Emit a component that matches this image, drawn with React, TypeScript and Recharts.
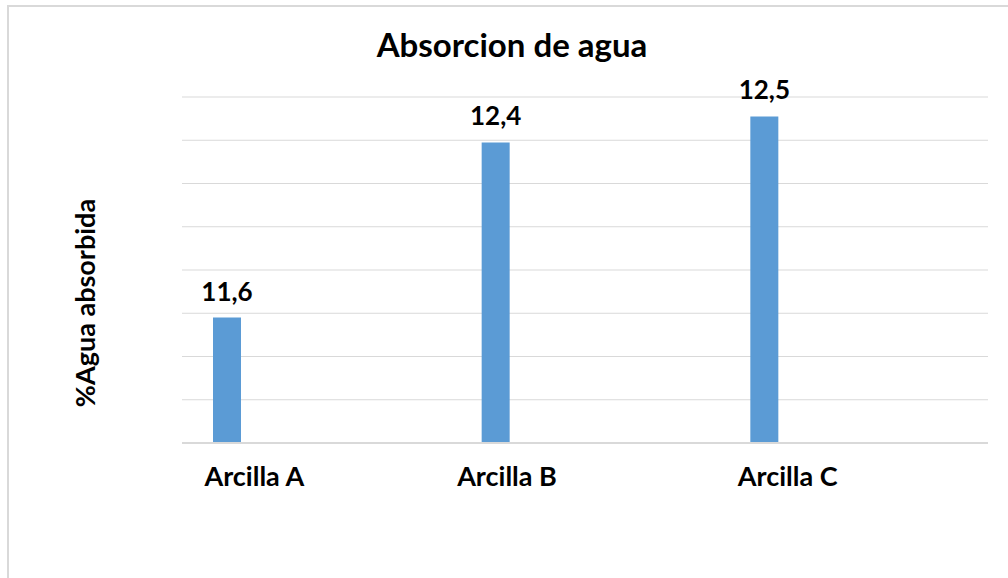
import React from 'react';
import { BarChart, Bar, XAxis, YAxis, CartesianGrid, LabelList } from 'recharts';

const categories = ['Arcilla A', 'Arcilla B', 'Arcilla C'];
const absorption = [11.58, 12.39, 12.51];
const yTicks = [11, 11.2, 11.4, 11.6, 11.8, 12, 12.2, 12.4, 12.6];

const data = categories.map((name, i) => ({ name, value: absorption[i], blank: null }));

const FONT = 'Lato, "Open Sans", sans-serif';
const TICK_NUDGE = [-62, -78, -66];

const fmt = (v: any) => (typeof v === 'number' ? v.toFixed(1).replace('.', ',') : '');

const CategoryTick = (props: any) => {
  const { x, y, payload, index } = props;
  return (
    <text
      x={x + (TICK_NUDGE[index] ?? 0)}
      y={y}
      dy={43}
      textAnchor="middle"
      fill="#000"
      fontFamily={FONT}
      fontWeight={700}
      fontSize={27}
    >
      {payload.value}
    </text>
  );
};

const NoTick = () => <g />;

export default function App() {
  return (
    <div>
      <div
        style={{
          position: 'absolute',
          left: 7,
          top: 5,
          width: 1001,
          height: 573,
          boxSizing: 'border-box',
          borderLeft: '2px solid #d9d9d9',
          borderTop: '2px solid #d9d9d9',
        }}
      />
      <div style={{ position: 'absolute', left: 0, top: 0, width: 1008, height: 578 }}>
        <BarChart
          width={1008}
          height={578}
          data={data}
          margin={{ top: 97, right: 20, bottom: 0, left: 182 }}
          barSize={28}
          barGap={151}
        >
          <CartesianGrid vertical={false} stroke="#d9d9d9" strokeWidth={1} horizontalValues={yTicks} />
          <XAxis
            dataKey="name"
            height={135}
            tickLine={false}
            tickSize={0}
            tickMargin={0}
            axisLine={{ stroke: '#d9d9d9', strokeWidth: 2 }}
            tick={<CategoryTick />}
            interval={0}
          />
          <YAxis
            width={0}
            domain={[11, 12.6]}
            ticks={yTicks}
            tick={<NoTick />}
            tickLine={false}
            axisLine={false}
            allowDataOverflow
          />
          <Bar dataKey="value" fill="#5b9bd5" isAnimationActive={false}>
            <LabelList
              dataKey="value"
              position="top"
              offset={17}
              formatter={fmt}
              fill="#000"
              fontFamily={FONT}
              fontWeight={700}
              fontSize={26}
            />
          </Bar>
          <Bar dataKey="blank" fill="transparent" isAnimationActive={false} />
          <text
            x={512}
            y={57}
            textAnchor="middle"
            fill="#000"
            fontFamily={FONT}
            fontWeight={700}
            fontSize={33}
          >
            Absorcion de agua
          </text>
          <text
            x={84}
            y={303}
            transform="rotate(-90 84 303)"
            textAnchor="middle"
            dominantBaseline="central"
            fill="#000"
            fontFamily={FONT}
            fontWeight={700}
            fontSize={27}
          >
            %Agua absorbida
          </text>
        </BarChart>
      </div>
    </div>
  );
}
